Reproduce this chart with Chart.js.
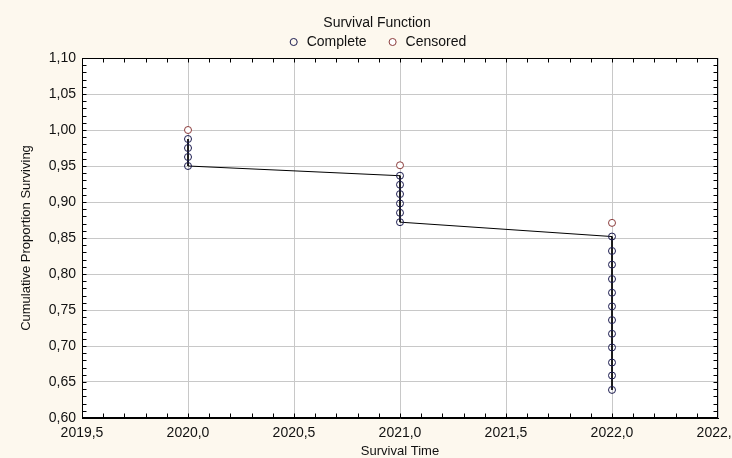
<!DOCTYPE html>
<html>
<head>
<meta charset="utf-8">
<script src="https://cdn.jsdelivr.net/npm/chart.js@4"></script>
<style>
  html, body { margin: 0; padding: 0; background: #fdf8ee; }
  #wrap { width: 732px; height: 458px; }
</style>
</head>
<body>
<div id="wrap"><canvas id="chart" width="732" height="458"></canvas></div>
<script>
// data
const completeTimes = [2020, 2020, 2020, 2020,
  2021, 2021, 2021, 2021, 2021, 2021,
  2022, 2022, 2022, 2022, 2022, 2022, 2022, 2022, 2022, 2022, 2022, 2022];
const completeSurv = [0.9875, 0.975, 0.9625, 0.95,
  0.9365, 0.924, 0.911, 0.898, 0.885, 0.872,
  0.852, 0.832, 0.813, 0.793, 0.774, 0.755, 0.736, 0.717, 0.698, 0.677, 0.659, 0.639];
const censoredTimes = [2020, 2021, 2022];
const censoredSurv = [1.0, 0.951, 0.871];

const xTicks = [2019.5, 2020.0, 2020.5, 2021.0, 2021.5, 2022.0, 2022.5];
const yTicks = [0.60, 0.65, 0.70, 0.75, 0.80, 0.85, 0.90, 0.95, 1.00, 1.05, 1.10];

const FONT = 'Arial, "Liberation Sans", sans-serif';
const toPts = (xs, ys) => xs.map((x, i) => ({ x, y: ys[i] }));

// frame + small inside ticks (0.1 on x, 0.01 on y)
const framePlugin = {
  id: 'frame',
  beforeDraw(chart) {
    const { ctx, chartArea: a } = chart;
    ctx.save();
    ctx.fillStyle = '#ffffff';
    ctx.fillRect(a.left, a.top, a.right - a.left, a.bottom - a.top);
    ctx.restore();
  },
  afterDatasetsDraw(chart) {
    const { ctx, chartArea: a, scales } = chart;
    const L = Math.round(a.left) + 0.5, R = Math.round(a.right) - 0.5;
    const T = Math.round(a.top) + 0.5, B = Math.round(a.bottom) - 0.5;
    ctx.save();
    ctx.strokeStyle = '#000';
    ctx.lineWidth = 1;
    ctx.strokeRect(L, T, R - L, B - T);
    ctx.beginPath();
    for (let i = 1; i < 30; i++) {
      const px = Math.round(scales.x.getPixelForValue(2019.5 + i * 0.1)) + 0.5;
      ctx.moveTo(px, B); ctx.lineTo(px, B - 4);
      ctx.moveTo(px, T); ctx.lineTo(px, T + 4);
    }
    for (let i = 1; i < 50; i++) {
      const py = Math.round(scales.y.getPixelForValue(0.6 + i * 0.01)) + 0.5;
      ctx.moveTo(L, py); ctx.lineTo(L + 4, py);
      ctx.moveTo(R, py); ctx.lineTo(R - 4, py);
    }
    ctx.stroke();
    ctx.restore();
  }
};

new Chart(document.getElementById('chart'), {
  type: 'scatter',
  data: {
    datasets: [
      {
        label: 'Complete',
        data: toPts(completeTimes, completeSurv),
        showLine: true,
        borderColor: '#1c1c50',
        borderWidth: 1,
        backgroundColor: '#ffffff',
        pointRadius: 3.5,
        pointBorderWidth: 1,
        pointBorderColor: '#1c1c50',
        pointBackgroundColor: 'rgba(255,255,255,0)',
        pointStyle: 'circle',
        segment: { borderColor: '#000000' },
      },
      {
        label: 'Censored',
        data: toPts(censoredTimes, censoredSurv),
        showLine: false,
        borderColor: '#8b3c3c',
        backgroundColor: '#ffffff',
        pointRadius: 3.5,
        pointBorderWidth: 1,
        pointBorderColor: '#8b3c3c',
        pointBackgroundColor: '#ffffff',
        pointStyle: 'circle',
      },
    ],
  },
  options: {
    responsive: false,
    animation: false,
    layout: { padding: { left: 36, right: 14, top: 0, bottom: 0 } },
    plugins: {
      title: { display: false },
      legend: {
        position: 'top',
        maxHeight: 58,
        title: {
          display: true,
          text: 'Survival Function',
          color: '#111',
          font: { family: FONT, size: 14, lineHeight: 1 },
          padding: { top: 16, bottom: -15 },
        },
        labels: {
          usePointStyle: true,
          boxWidth: 12,
          boxHeight: 5,
          padding: 20,
          color: '#111',
          font: { family: FONT, size: 14 },
        },
      },
      tooltip: { enabled: false },
    },
    scales: {
      x: {
        type: 'linear',
        min: 2019.5,
        max: 2022.5,
        afterBuildTicks: (s) => { s.ticks = xTicks.map(v => ({ value: v })); },
        afterFit: (s) => { s.height = 40; s.paddingLeft = 0; s.paddingRight = 0; },
        grid: { color: '#c8c8c8', drawTicks: false },
        border: { color: '#000' },
        ticks: {
          autoSkip: false,
          maxRotation: 0,
          padding: 7,
          color: '#111',
          font: { family: FONT, size: 14 },
          callback: (v) => Number(v).toFixed(1).replace('.', ','),
        },
        title: {
          display: true,
          text: 'Survival Time',
          color: '#111',
          font: { family: FONT, size: 13, lineHeight: 1 },
          padding: { top: 0, bottom: 0 },
        },
      },
      y: {
        type: 'linear',
        min: 0.6,
        max: 1.1,
        afterBuildTicks: (s) => { s.ticks = yTicks.map(v => ({ value: v })); },
        afterFit: (s) => { s.width = 46; s.paddingTop = 0; s.paddingBottom = 0; },
        grid: { color: '#c8c8c8', drawTicks: false },
        border: { color: '#000' },
        ticks: {
          padding: 6,
          color: '#111',
          font: { family: FONT, size: 14 },
          callback: (v) => Number(v).toFixed(2).replace('.', ','),
        },
        title: {
          display: true,
          text: 'Cumulative Proportion Surviving',
          color: '#111',
          font: { family: FONT, size: 13, lineHeight: 1 },
          padding: { top: -16.5, bottom: 0 },
        },
      },
    },
  },
  plugins: [framePlugin],
});
</script>
</body>
</html>
